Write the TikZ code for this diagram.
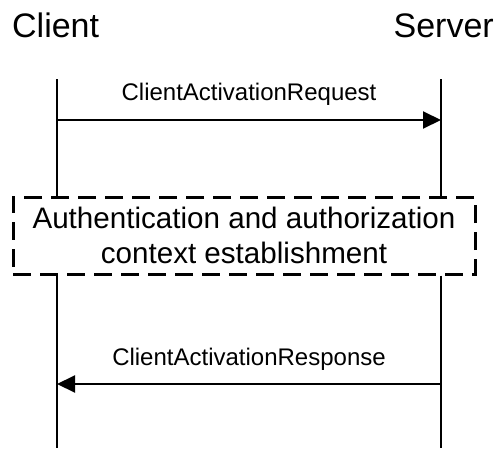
\documentclass[tikz,border=0pt]{standalone}
\usepackage{fontspec}
\setmainfont{Liberation Sans}
\usetikzlibrary{arrows.meta,positioning}

\tikzset{
  party/.style={inner sep=0pt, font=\fontsize{34}{40}\selectfont},
  lifeline/.style={line width=2pt},
  msg/.style={line width=2pt, -{Triangle[length=18pt,width=17pt]}},
  msglabel/.style={inner sep=0pt, font=\fontsize{24}{28}\selectfont},
  phase/.style={draw, line width=3pt, dash pattern=on 18pt off 9pt,
    minimum width=462pt, minimum height=77pt, inner sep=0pt, align=center,
    font=\fontsize{29.6}{35}\selectfont}
}

\begin{document}
\begin{tikzpicture}[x=1pt, y=-1pt]
\useasboundingbox (0,0) rectangle (495,450);
% parties
\node[party, anchor=base west] (client) at (12,37) {Client};
\node[party, anchor=base east] (server) at (494,37) {Server};
% lifeline ends
\coordinate (c top) at (57,79);
\coordinate (s top) at (441,79);
\coordinate (c end) at (57,448);
\coordinate (s end) at (441,448);
% phase box
\node[phase] (auth) at (244,235.5) {Authentication and authorization\\context establishment};
\draw[lifeline] (c top) -- (c top |- auth.north);
\draw[lifeline] (s top) -- (s top |- auth.north);
\draw[lifeline] (c end |- auth.south) -- (c end);
\draw[lifeline] (s end |- auth.south) -- (s end);
% messages
\coordinate (req c) at (57,120);
\coordinate (req s) at (441,120);
\coordinate (rsp c) at (57,384);
\coordinate (rsp s) at (441,384);
\draw[msg] (req c) -- (req s) node[msglabel, midway, above=14pt] (req) {ClientActivationRequest};
\draw[msg] (rsp s) -- (rsp c) node[msglabel, midway, above=13pt] (rsp) {ClientActivationResponse};
\end{tikzpicture}
\end{document}
